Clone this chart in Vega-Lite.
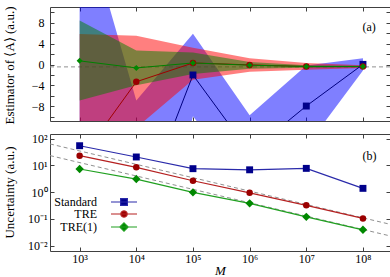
{
  "$schema": "https://vega.github.io/schema/vega-lite/v6.json",
  "padding": {"left": 2, "top": 5, "right": 1, "bottom": 0},
  "bounds": "flush",
  "config": {
    "font": "Liberation Serif",
    "view": {"stroke": "#404040", "strokeWidth": 1},
    "axis": {
      "labelFont": "Liberation Serif", "titleFont": "Liberation Serif",
      "labelFontSize": 12, "titleFontSize": 13, "titleFontWeight": "normal",
      "labelColor": "#000", "titleColor": "#000", "tickColor": "#404040",
      "domain": false, "grid": false, "tickSize": -4, "labelPadding": 7
    }
  },
  "resolve": {
    "scale": {"stroke": "independent", "color": "independent", "fill": "independent", "shape": "independent", "size": "independent"},
    "legend": {"stroke": "independent", "color": "independent", "fill": "independent", "shape": "independent", "size": "independent"}
  },
  "datasets": {
    "top": [
      {"M": 1000, "series": "Standard", "v": -20, "lo": -70, "hi": 30.7},
      {"M": 10000, "series": "Standard", "v": -30, "lo": -53, "hi": -6.9},
      {"M": 100000, "series": "Standard", "v": -2, "lo": -9.9, "hi": 5.9},
      {"M": 1000000, "series": "Standard", "v": -16.8, "lo": -23.9, "hi": -9.7},
      {"M": 10000000, "series": "Standard", "v": -7.94, "lo": -15.7, "hi": -0.2},
      {"M": 100000000, "series": "Standard", "v": 0.03, "lo": -1.14, "hi": 1.2},
      {"M": 1000, "series": "TRE", "v": -18.3, "lo": -42, "hi": 5.83},
      {"M": 10000, "series": "TRE", "v": -3.3, "lo": -12.1, "hi": 5.5},
      {"M": 100000, "series": "TRE", "v": 0.3, "lo": -2.9, "hi": 3.2},
      {"M": 1000000, "series": "TRE", "v": -0.07, "lo": -1.4, "hi": 1.2},
      {"M": 10000000, "series": "TRE", "v": -0.38, "lo": -1.0, "hi": 0.3},
      {"M": 100000000, "series": "TRE", "v": -0.4, "lo": -0.65, "hi": -0.15},
      {"M": 1000, "series": "TRE(1)", "v": 0.7, "lo": -6.86, "hi": 8.4},
      {"M": 10000, "series": "TRE(1)", "v": -0.65, "lo": -3.97, "hi": 2.67},
      {"M": 100000, "series": "TRE(1)", "v": 0.3, "lo": -1.8, "hi": 2.3},
      {"M": 1000000, "series": "TRE(1)", "v": -0.13, "lo": -0.8, "hi": 0.5},
      {"M": 10000000, "series": "TRE(1)", "v": -0.38, "lo": -0.6, "hi": -0.15},
      {"M": 100000000, "series": "TRE(1)", "v": -0.38, "lo": -0.5, "hi": -0.25}
    ],
    "bottom": [
      {"M": 1000, "series": "Standard", "u": 54},
      {"M": 10000, "series": "Standard", "u": 20.5},
      {"M": 100000, "series": "Standard", "u": 7.5},
      {"M": 1000000, "series": "Standard", "u": 6.8},
      {"M": 10000000, "series": "Standard", "u": 7.7},
      {"M": 100000000, "series": "Standard", "u": 1.38},
      {"M": 1000, "series": "TRE", "u": 22.9},
      {"M": 10000, "series": "TRE", "u": 8.4},
      {"M": 100000, "series": "TRE", "u": 2.65},
      {"M": 1000000, "series": "TRE", "u": 0.94},
      {"M": 10000000, "series": "TRE", "u": 0.32},
      {"M": 100000000, "series": "TRE", "u": 0.104},
      {"M": 1000, "series": "TRE(1)", "u": 7.3},
      {"M": 10000, "series": "TRE(1)", "u": 3.07},
      {"M": 100000, "series": "TRE(1)", "u": 0.98},
      {"M": 1000000, "series": "TRE(1)", "u": 0.38},
      {"M": 10000000, "series": "TRE(1)", "u": 0.119},
      {"M": 100000000, "series": "TRE(1)", "u": 0.039}
    ],
    "refTop": [
      {"M": 300, "v": -0.45},
      {"M": 300000000, "v": -0.45}
    ],
    "refBottom": [
      {"M": 300, "line": "a", "u": 62.9},
      {"M": 300000000, "line": "a", "u": 0.0629},
      {"M": 300, "line": "b", "u": 23.1},
      {"M": 300000000, "line": "b", "u": 0.0231}
    ]
  },
  "spacing": 13,
  "vconcat": [
    {
      "width": 340,
      "height": 114,
      "layer": [
        {
          "data": {"name": "refTop"},
          "mark": {"type": "line", "color": "#909090", "strokeDash": [4, 3], "strokeWidth": 1, "clip": true},
          "encoding": {
            "x": {"field": "M", "type": "quantitative", "scale": {"type": "log", "domain": [300, 300000000], "nice": false},
                  "axis": {"orient": "top", "values": [1000, 10000, 100000, 1000000, 10000000, 100000000], "labels": false, "title": null}},
            "y": {"field": "v", "type": "quantitative", "scale": {"domain": [-10.8, 11], "nice": false, "zero": false},
                  "axis": {"orient": "right", "values": [-10, -8, -6, -4, -2, 0, 2, 4, 6, 8, 10], "labels": false, "title": null}}
          }
        },
        {
          "data": {"name": "top"},
          "mark": {"type": "area", "opacity": 0.5, "clip": true, "interpolate": "linear"},
          "encoding": {
            "x": {"field": "M", "type": "quantitative", "scale": {"type": "log", "domain": [300, 300000000], "nice": false},
                  "axis": {"orient": "bottom", "values": [1000, 10000, 100000, 1000000, 10000000, 100000000], "labels": false, "title": null}},
            "y": {"field": "lo", "type": "quantitative", "scale": {"domain": [-10.8, 11], "nice": false, "zero": false},
                  "axis": {"orient": "left", "values": [-10, -8, -6, -4, -2, 0, 2, 4, 6, 8, 10], "labelPadding": 10,
                           "labelExpr": "datum.value % 4 === 0 ? datum.label : ''",
                           "title": "Estimator of ⟨A⟩ (a.u.)", "titleX": -41, "titleY": 58, "titleBaseline": "middle", "titleAngle": -90}},
            "y2": {"field": "hi"},
            "fill": {"field": "series", "type": "nominal", "scale": {"domain": ["Standard", "TRE", "TRE(1)"], "range": ["#0000ff", "#ff0000", "#008000"]}, "legend": null}
          }
        },
        {
          "data": {"name": "top"},
          "mark": {"type": "line", "strokeWidth": 1, "clip": true},
          "encoding": {
            "x": {"field": "M", "type": "quantitative", "scale": {"type": "log", "domain": [300, 300000000], "nice": false}, "axis": null},
            "y": {"field": "v", "type": "quantitative", "scale": {"domain": [-10.8, 11], "nice": false, "zero": false}, "axis": null},
            "stroke": {"field": "series", "type": "nominal", "scale": {"domain": ["Standard", "TRE", "TRE(1)"], "range": ["#000080", "#a00000", "#008000"]}, "legend": null}
          }
        },
        {
          "data": {"name": "top"},
          "mark": {"type": "point", "filled": true, "opacity": 1, "clip": true},
          "encoding": {
            "x": {"field": "M", "type": "quantitative", "scale": {"type": "log", "domain": [300, 300000000], "nice": false}, "axis": null},
            "y": {"field": "v", "type": "quantitative", "scale": {"domain": [-10.8, 11], "nice": false, "zero": false}, "axis": null},
            "color": {"field": "series", "type": "nominal", "scale": {"domain": ["Standard", "TRE", "TRE(1)"], "range": ["#00008b", "#9b0000", "#008800"]}, "legend": null},
            "shape": {"field": "series", "type": "nominal", "scale": {"domain": ["Standard", "TRE", "TRE(1)"], "range": ["square", "circle", "diamond"]}, "legend": null},
            "size": {"field": "series", "type": "nominal", "scale": {"domain": ["Standard", "TRE", "TRE(1)"], "range": [48, 36, 70]}, "legend": null}
          }
        },
        {
          "data": {"values": [{"M": 128000000, "v": 7.2, "t": "(a)"}]},
          "mark": {"type": "text", "fontSize": 12, "font": "Liberation Serif", "color": "#000"},
          "encoding": {
            "x": {"field": "M", "type": "quantitative", "scale": {"type": "log", "domain": [300, 300000000], "nice": false}, "axis": null},
            "y": {"field": "v", "type": "quantitative", "scale": {"domain": [-10.8, 11], "nice": false, "zero": false}, "axis": null},
            "text": {"field": "t"}
          }
        }
      ],
      "resolve": {"axis": {"x": "independent", "y": "independent"}}
    },
    {
      "width": 340,
      "height": 117,
      "layer": [
        {
          "data": {"name": "refBottom"},
          "mark": {"type": "line", "color": "#909090", "strokeDash": [4, 3], "strokeWidth": 1, "clip": true},
          "encoding": {
            "x": {"field": "M", "type": "quantitative", "scale": {"type": "log", "domain": [300, 300000000], "nice": false},
                  "axis": {"orient": "top", "values": [1000, 10000, 100000, 1000000, 10000000, 100000000], "labels": false, "title": null}},
            "y": {"field": "u", "type": "quantitative", "scale": {"type": "log", "domain": [0.0063, 148], "nice": false},
                  "axis": {"orient": "right", "values": [0.01, 0.1, 1, 10, 100], "labels": false, "title": null}},
            "detail": {"field": "line"}
          }
        },
        {
          "data": {"name": "bottom"},
          "mark": {"type": "line", "strokeWidth": 1.2, "clip": true},
          "encoding": {
            "x": {"field": "M", "type": "quantitative", "scale": {"type": "log", "domain": [300, 300000000], "nice": false},
                  "axis": {"orient": "bottom", "values": [1000, 10000, 100000, 1000000, 10000000, 100000000], "labelPadding": 6,
                           "labelExpr": "'10' + (datum.value < 1 ? '⁻' : '') + ['⁰','¹','²','³','⁴','⁵','⁶','⁷','⁸','⁹'][abs(round(log(datum.value)/LN10))]",
                           "title": "M", "titleFontStyle": "italic", "titlePadding": 0}},
            "y": {"field": "u", "type": "quantitative", "scale": {"type": "log", "domain": [0.0063, 148], "nice": false},
                  "axis": {"orient": "left", "values": [0.01, 0.1, 1, 10, 100],
                           "labelExpr": "'10' + (datum.value < 1 ? '⁻' : '') + ['⁰','¹','²','³','⁴','⁵','⁶','⁷','⁸','⁹'][abs(round(log(datum.value)/LN10))]",
                           "title": "Uncertainty (a.u.)", "titleX": -41, "titleY": 58, "titleBaseline": "middle", "titleAngle": -90}},
            "stroke": {"field": "series", "type": "nominal", "scale": {"domain": ["Standard", "TRE", "TRE(1)"], "range": ["#2a2aaa", "#b52020", "#20a020"]},
                       "legend": {
                         "orient": "none", "legendX": 68, "legendY": 62, "padding": 0, "rowPadding": 0,
                         "title": null, "labelFont": "Liberation Serif", "labelFontSize": 12, "labelColor": "#000",
                         "labelAlign": "right", "labelOffset": -33, "symbolSize": 64, "symbolStrokeWidth": 1.2,
                         "encode": {"symbols": {"update": {
                           "shape": {"signal": "datum.value === 'Standard' ? 'M-3.25,0L3.25,0M-0.85,-0.85L0.85,-0.85L0.85,0.85L-0.85,0.85Z' : datum.value === 'TRE' ? 'M-3.25,0L3.25,0M0.8,0L0.69,0.4L0.4,0.69L0,0.8L-0.4,0.69L-0.69,0.4L-0.8,0L-0.69,-0.4L-0.4,-0.69L0,-0.8L0.4,-0.69L0.69,-0.4Z' : 'M-3.25,0L3.25,0M0,-1.05L1.05,0L0,1.05L-1.05,0Z'"},
                           "fill": {"signal": "datum.value === 'Standard' ? '#00008b' : datum.value === 'TRE' ? '#9b0000' : '#008800'"},
                           "stroke": {"signal": "datum.value === 'Standard' ? '#2a2aaa' : datum.value === 'TRE' ? '#b52020' : '#20a020'"},
                           "strokeWidth": {"value": 1.2}
                         }}}
                       }}
          }
        },
        {
          "data": {"name": "bottom"},
          "transform": [{"filter": "datum.series === 'Standard'"}],
          "mark": {"type": "point", "filled": true, "opacity": 1, "clip": true, "shape": "square", "size": 48, "color": "#00008b"},
          "encoding": {
            "x": {"field": "M", "type": "quantitative", "scale": {"type": "log", "domain": [300, 300000000], "nice": false}, "axis": null},
            "y": {"field": "u", "type": "quantitative", "scale": {"type": "log", "domain": [0.0063, 148], "nice": false}, "axis": null}
          }
        },
        {
          "data": {"name": "bottom"},
          "transform": [{"filter": "datum.series === 'TRE'"}],
          "mark": {"type": "point", "filled": true, "opacity": 1, "clip": true, "shape": "circle", "size": 42, "color": "#9b0000"},
          "encoding": {
            "x": {"field": "M", "type": "quantitative", "scale": {"type": "log", "domain": [300, 300000000], "nice": false}, "axis": null},
            "y": {"field": "u", "type": "quantitative", "scale": {"type": "log", "domain": [0.0063, 148], "nice": false}, "axis": null}
          }
        },
        {
          "data": {"name": "bottom"},
          "transform": [{"filter": "datum.series === 'TRE(1)'"}],
          "mark": {"type": "point", "filled": true, "opacity": 1, "clip": true, "shape": "diamond", "size": 70, "color": "#008800"},
          "encoding": {
            "x": {"field": "M", "type": "quantitative", "scale": {"type": "log", "domain": [300, 300000000], "nice": false}, "axis": null},
            "y": {"field": "u", "type": "quantitative", "scale": {"type": "log", "domain": [0.0063, 148], "nice": false}, "axis": null}
          }
        },
        {
          "data": {"values": [{"M": 130000000, "u": 23, "t": "(b)"}]},
          "mark": {"type": "text", "fontSize": 12, "font": "Liberation Serif", "color": "#000"},
          "encoding": {
            "x": {"field": "M", "type": "quantitative", "scale": {"type": "log", "domain": [300, 300000000], "nice": false}, "axis": null},
            "y": {"field": "u", "type": "quantitative", "scale": {"type": "log", "domain": [0.0063, 148], "nice": false}, "axis": null},
            "text": {"field": "t"}
          }
        }
      ],
      "resolve": {"axis": {"x": "independent", "y": "independent"}}
    }
  ]
}
